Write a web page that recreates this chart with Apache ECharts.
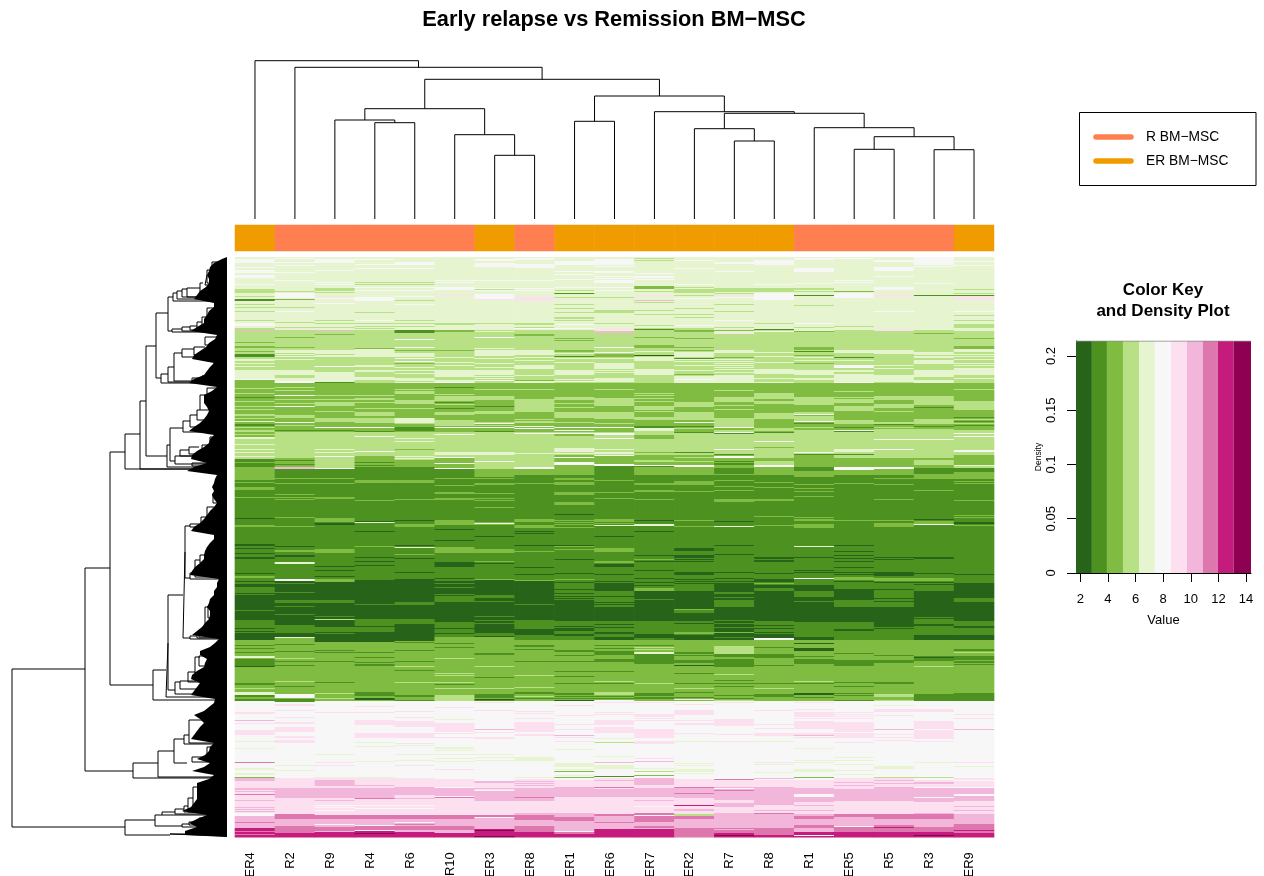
<!DOCTYPE html>
<html>
<head>
<meta charset="utf-8">
<style>html,body{margin:0;padding:0;background:#fff}#c{width:1264px;height:876px}</style>
<script src="https://cdn.jsdelivr.net/npm/echarts@6/dist/echarts.min.js"></script>
</head>
<body>
<div id="c"></div>
<script>
// ---- labels and groups ----
const sampleNames = ["ER4","R2","R9","R4","R6","R10","ER3","ER8","ER1","ER6","ER7","ER2","R7","R8","R1","ER5","R5","R3","ER9"];
const sampleGroups = [2,1,1,1,1,1,2,1,2,2,2,2,2,2,1,1,1,1,2];
const groupNames = ["R BM\u2212MSC","ER BM\u2212MSC"];
const groupColors = ["#FF7F50","#F09C00"];
// PiYG levels 1..11
const levelColors = ["#276419","#4d9221","#7fbc41","#b8e186","#e6f5d0","#f7f7f7","#fde0ef","#f1b6da","#de77ae","#c51b7d","#8e0152"];
const keyEdges = [1.69,2.84,3.93,5.09,6.25,7.40,8.56,9.72,10.87,11.96,13.11,14.36];
const keyXTicks = [2,4,6,8,10,12,14];
const keyYTicks = [0,0.05,0.1,0.15,0.2];

// ---- heatmap columns: "row:level:rows" runs, later runs lie over earlier ones ----
const rowER4 = "0:5:75 75:4:48 123:3:59 182:4:20 202:2:8 210:3:8 218:3:5 223:2:7 230:3:3 233:2:105 338:1:25 363:2:13 376:1:7 383:3:61 444:6:77 521:8:3 524:7:35 559:8:12 571:10:9 2:6:4 10:6 13:6:3 18:6:3 27:6 32:4:4 39:4 42:2:2 47:4 50:4 54:4 63:4 66:6:3 71:4:3 74:8 85:3 89:3:2 94:3 97:2:3 102:5:2 106:5 109:5 113:5:9 122:6 131:4 136:4 140:2 144:4 149:4 152:4 157:4:2 161:4 164:5 167:2:2 170:4 173:4:2 177:4 180:5:2 187:5 192:5 195:5 199:7 205:3 225:3 240:3 261:1 268:3:2 287:1:2 291:1 296:1 300:1:2 316:1 319:3:2 324:1 327:1:3 336:1 353:2 371:1 374:1 388:2 391:2 395:2 399:5:2 402:2:7 409:1 426:2:2 431:4 435:5:3 438:2:2 442:2:2 455:7:2 463:8 466:7 473:7:5 484:5 491:5 505:9 511:5:2 516:5:2 520:3 531:8 532:8 534:8 537:9 543:8 550:8 552:8 554:8 556:6:3 565:9 568:8 574:9 577:9";
const rowR2 = "0:5:73 73:4:20 93:5:3 96:4:17 113:5:5 118:4:3 121:5:3 124:6:2 126:3:49 175:4:26 201:3:9 210:8:2 212:2:4 216:2:2 218:2:120 324:1:44 368:2:8 376:1:4 380:5:1 381:3:63 444:6:77 521:7:10 531:8:10 541:7:16 557:9:5 562:8:7 569:9:7 576:10:4 1:6 5:6 8:6 15:6 23:6 34:4 36:6:5 42:3 50:4 54:6 65:4 70:4 71:7 80:3 90:3 97:5 99:5 102:5 130:4 133:4 138:6 142:4 146:4 149:6 158:4:3 165:6 168:4 173:2 203:2 207:2 221:3 226:3 237:3 240:3 242:3 260:3 269:3 289:1 293:3:2 298:1:2 305:5:2 322:6:2 326:2 335:2 343:2:3 349:2 357:2 365:1:2 387:2 394:2 401:4 404:2 408:2 424:4 429:2 437:6:4 442:2:3 447:7:2 453:7 460:7 465:7:2 470:7:5 479:7:2 483:7:3 508:5 513:5";
const rowR9 = "0:5:75 75:4:18 93:5:7 100:4:15 115:5:10 125:2 126:3:49 175:4:36 211:2:7 218:2:107 325:1:60 385:3:59 444:6:77 521:7:8 523:8:6 529:7:2 531:8:10 541:7:17 558:9:4 562:8:8 570:9:4 574:8:1 575:10:5 2:6:4 13:6 25:6 27:6 31:4:3 35:4 39:7 41:6 46:6 63:4 66:4 70:4 73:4 74:8 77:3 97:4 101:4 109:6 138:4 142:4 145:4:4 154:4 161:4:4 170:6 173:2 192:5 195:5 199:6 211:6 221:3 226:3 240:3:2 261:3:4 266:1:2 292:3:4 309:1 313:1 319:1 322:3:3 343:2:3 359:2 362:4 370:2:5 376:2 393:2 395:2 404:2 425:2 436:4 441:4 455:7 497:5 505:7 508:7 520:5 543:8 548:6 550:6 553:6 567:6";
const rowR4 = "0:5:73 73:4:19 92:5:8 100:4:8 108:5:2 110:4:3 113:5:2 115:4:5 120:5:3 123:4:3 126:3:49 175:4:24 199:3:11 210:2:8 218:2:105 323:1:62 385:3:50 435:2:4 439:3:5 444:6:77 521:7:10 531:8:7 538:8:4 542:7:16 558:9:4 562:8:6 569:9:4 574:10:6 2:6 7:6 11:6 25:4 27:4 30:6 33:6 40:6:4 55:4 63:6 66:4 69:4 71:4 91:3 102:4 105:4 138:4 141:4:2 145:4 151:4 155:4:4 161:4:5 170:6 174:2 179:6 194:6 205:2 208:2 223:3:3 243:3 264:1 265:5 274:1 289:3 300:1 304:1 308:1 347:2 362:2:2 364:2:5 370:2:5 380:1 382:1 395:2 400:2 405:2 407:2:2 441:1:2 449:7 455:7 463:7:5 469:6 476:7:5 485:5 489:5 504:5 520:5 528:8 541:9 548:6 551:6 576:11";
const rowR6 = "0:5:75 75:4:50 125:5:1 126:3:49 175:4:28 203:3:7 210:2:8 218:2:106 324:1:60 384:3:60 444:6:77 521:7:9 530:8:8 538:7:20 558:9:4 562:8:7 569:9:4 573:8:2 575:10:5 5:6:3 11:6 25:4 27:4 30:6 33:6 39:6 43:4 47:6 63:4 66:4 69:4 73:2:3 82:6 90:6 93:3 96:5:4 106:3 101:6 104:6 110:5 113:5 116:5 121:5:3 132:4 134:4:3 143:4:4 151:4 161:5:5 166:4 170:2:4 192:3 181:5 184:5 199:5 201:5 203:3:3 223:3:3 242:3 263:1 267:3:3 288:1 290:5 297:3 301:1 315:1 322:1:3 345:2:3 362:2 363:2:4 385:2 393:2 393:2 404:2 409:4 413:2 425:4 438:2:2 443:2 454:7 460:7 464:7:6 476:7:5 486:7 488:5 497:5 503:5 508:7 541:8 548:6 551:6 565:6 567:9";
const rowR10 = "0:5:73 73:4:40 113:5:2 115:5:5 120:4:3 123:5:2 125:6 126:3:49 175:4:20 195:5:3 198:4:2 200:6 201:3:10 211:2:7 218:2:105 323:1:16 339:2:6 345:1:20 365:2:16 381:3:63 444:6:77 522:7:8 531:8:8 540:9 541:7:17 558:9:4 562:8:7 569:9:4 573:8:3 576:10:4 23:6 25:6 30:6:3 37:7 66:4:2 73:3:2 93:3 100:5 105:5 108:5 130:2 137:4 139:4:5 145:2 147:4 150:3 151:2 155:4:3 163:4:5 170:6 168:4 173:3:2 177:6 206:6 211:6 221:3 228:3 235:3:2 241:3:2 263:3:5 272:1 283:1 290:3:6 305:1:5 321:1 322:2:2 326:2 330:2 337:2 371:1 376:1 380:3 386:2 390:2 401:4 416:4 418:4 425:4 427:2 431:4 438:4:6 450:7 462:5 466:7:9 476:7 480:7 490:5:2 493:5 497:5 501:5 504:5 512:7";
const rowER3 = "0:5:75 75:4:51 126:3:13 139:4:4 143:3:11 154:4:3 157:3:8 165:4:2 167:3:8 175:4:23 198:4:14 212:3:6 218:2:105 323:1:15 338:2:3 341:1:39 380:3:3 383:3:61 444:6:77 524:7:9 533:8:11 544:7:14 558:9:2 560:8:12 572:10:3 575:10:5 2:6:2 6:6:4 23:6 31:6 32:4 33:6 37:6:5 42:7 66:4 73:4 80:6 91:5 93:5:6 101:5 106:5 110:5 113:5:5 119:5 121:5 123:6 132:4 145:3 149:2 166:6 168:4 170:6 172:3 174:2 195:5:3 204:6 218:3:2 221:3 226:3:2 236:3 241:3 243:3 250:3 265:3 266:6 267:3 279:1 292:3:4 304:3 306:1 322:3 340:2 339:2:2 344:2 359:2 363:2 366:2 375:1 376:2:3 396:2 397:2 409:4 420:2 431:4 437:2:4 442:1 443:2 445:7 453:7 472:8 475:7 480:7:2 497:5 500:5 503:5 524:8:2 531:8 533:6 560:6 573:11 579:11";
const rowER8 = "0:5:73 73:4:53 126:3:16 142:4:13 155:3:9 164:4:2 166:3:9 175:4:26 201:4:9 210:6:2 212:3:6 218:2:106 324:1:39 363:2:9 372:1:6 378:2:5 383:3:61 444:6:77 522:7:9 531:8:13 544:7:12 556:8:2 558:9:5 563:8:6 569:9:6 575:10:5 1:6:2 7:6:4 23:6 31:6 33:6 40:7:4 66:4 67:4 70:4 71:6 77:3:2 93:5:5 100:5 103:5 108:5:4 114:4:3 118:5 123:3 124:5:2 132:4 162:4 165:4 169:6 171:6 176:6 196:5 226:3 262:3:3 268:3:3 274:1 276:1 288:1 294:3 310:1 317:1 323:3 347:2 388:2:2 392:2 404:2 418:4 430:4 435:2:2 439:4 441:2 454:7 456:7 461:7 465:7:10 477:7:2 500:5:4 520:5 524:8 526:8 528:8 540:9";
const rowER1 = "0:5:73 73:4:40 113:5:5 118:4:8 126:3:14 140:4:3 143:3:12 155:4:6 161:3:14 175:4:23 198:3:20 218:2:105 323:2:22 345:1:19 364:2:8 372:1:2 374:2:3 377:1:2 379:2:4 383:3:61 444:6:77 523:7:7 530:8:10 540:7:16 556:8:4 560:9:4 564:8:6 570:8:3 575:9:2 577:10:3 4:6:4 14:6 17:6 22:6 30:6 33:4 36:2 38:5 40:4 47:4 51:4 55:4 60:4:2 63:4 67:6 71:6 81:3 83:3 93:3:2 96:5 99:2 101:5 105:5 122:5 121:4 124:6 140:4 146:4 150:4 165:4 170:6 173:6 176:6 177:3:2 191:5:4 196:5 200:6 205:6:3 211:3:3 221:3:2 225:3:3 235:3:3 245:3:3 257:1 263:3 265:3 267:3 270:3 288:1 289:3 292:3 302:1 316:1 322:3 325:1 332:1 336:1 339:1 341:1 343:1:2 369:1 371:1 393:2:2 398:2 404:2 414:2 419:2 426:2 436:2:2 439:2 441:2 443:1 448:7 458:7 467:7 470:6 472:7 478:8 480:7 484:7 492:5 506:5:4 512:5 514:3 518:5 520:3 571:8 573:8";
const rowER6 = "0:5:75 75:4:51 126:3:15 141:4:8 149:3:6 155:4:6 161:3:14 175:4:23 198:6:1 199:3:8 207:6:2 209:2:109 318:2:6 324:2:2 326:1:8 334:2:5 339:2:11 350:1:14 364:2:16 380:1:3 383:3:61 444:6:77 521:7:11 532:8:8 540:7:17 557:9:2 559:8:9 568:8:4 572:10:8 2:6:6 9:6 14:6:2 19:6 21:6 23:6:3 30:6 33:4 33:6 40:4 53:4:3 66:4 72:7 74:8:2 90:6 95:6 97:3:3 101:5 106:5:5 109:5 111:5 113:5 115:5 121:5:4 132:4 155:4 161:4 166:4 170:6 176:6:2 181:6 192:5 195:5 196:5 223:3 235:3 241:3 262:3:3 266:3 268:5 279:1 291:3:4 304:3:2 307:1:3 317:1 324:1 339:1 345:1 347:1 367:1 370:1 375:1:2 388:2 391:2 396:2 394:2:2 397:2 402:2:3 414:2 424:4 426:2 435:4:3 439:2 441:2 443:6 445:7 455:7 457:7 463:7:5 468:6 470:7:6 481:5 485:4 499:5 505:8 508:5:4 519:2 523:8 530:9 565:9 560:8";
const rowER7 = "0:5:71 71:4:41 112:5:6 118:4:8 126:3:23 149:4:4 153:3:7 160:4:3 163:3:8 171:5:3 174:4:4 178:3:1 179:4:22 198:3:15 213:3:5 218:2:105 323:2:11 334:1:30 364:2:13 377:1:4 381:2:2 383:3:61 444:6:77 521:7:3 524:8:4 528:7:3 531:8:9 540:7:16 556:9:2 558:6:1 559:9:6 565:8:7 572:10:3 575:10:5 1:4 3:4 16:6 19:6:2 22:6 29:3:3 34:4 38:7 43:8 45:4 53:4 57:4 68:4 72:2 80:3 88:3:3 94:5 98:1 100:5:4 105:4:3 136:4 138:4 141:4 144:4 154:4 169:2:2 179:3:2 181:3 195:3 203:4:2 208:6 209:2 213:3 226:3:2 233:3:2 242:3 263:1 267:5:2 274:1 298:1 302:3 304:1 313:1 321:1 325:1 328:1 331:3:3 342:2 388:2 390:4 392:4 395:5:2 397:2 398:2:5 403:2:4 426:4 436:2:3 440:2 441:2 445:7 457:7:3 461:7 463:7 472:7:9 484:7:3 501:7 504:8 511:5 514:4 518:3 521:8:3 543:8 549:6 557:9 558:6 569:9:2";
const rowER2 = "0:5:75 75:4:45 120:5:6 126:3:19 145:4:5 150:3:5 155:4:8 163:3:12 175:4:23 198:3:2 200:4 201:3:7 208:6:2 210:3:8 218:2:6 224:3:4 228:2:95 323:2:11 334:1:30 352:2:5 364:2:14 378:1:5 383:3:61 444:6:77 522:7:8 530:8:11 541:7:16 557:4:2 559:9:3 562:8:9 571:9:7 578:9:2 3:6 11:6 27:6 30:4 32:4:4 38:4 41:6 51:4 57:4 60:4 68:6 71:4:2 73:3:2 81:3 90:3 93:3 95:5:5 101:2 102:5 104:5 108:5 113:5 117:3 119:5 122:6 165:6 169:2 171:4 175:2 195:2 200:4 204:4 234:3 263:3 269:3 291:1:3 298:1:3 302:1 304:1 315:1:3 322:1 324:1 326:1 330:2 345:1 352:3 356:1 363:1 366:1 375:3:2 379:1 395:2:2 398:2 403:2:3 408:1 416:2 426:2 431:4 435:2 440:2 442:7 447:7 453:7:5 463:7 466:7:2 476:7 484:5 506:5 508:5 512:5:3 516:5 530:9 536:9 548:10 552:8:2";
const rowR7 = "0:5:77 77:4:49 126:3:14 140:4:5 145:3:15 160:4:11 171:3:2 173:4:28 201:4:3 198:3:13 211:2:7 218:2:108 326:1:9 335:2:2 337:1:6 343:2:7 350:1:33 383:3:61 444:6:77 523:7:7 530:8:13 543:7:3 546:8:4 550:7:13 556:8:5 561:8:12 573:9:3 576:10:4 5:6:2 14:6 31:4:4 36:4 38:7 40:6 47:4 54:4 63:6 70:4 73:3 75:7 93:5:3 100:3 102:5 104:5 106:5 108:5 110:5 112:5 115:5 118:5:8 133:4 140:4 148:4 152:4 158:3:3 170:6 175:6 176:2 192:6 197:2 199:6:2 204:2 206:2:2 217:3 223:3 229:3 233:3 242:3:3 264:1 269:5 288:1 297:1 315:1 321:1 324:1 340:2 363:2 366:2 370:2 375:3 380:2 389:4:8 397:2:3 402:2:8 417:4 423:2 426:2 429:2 438:2 441:2 443:4 445:7 462:7:7 472:6 477:7 484:7 522:9 531:6 533:9 537:8 571:9 578:11";
const rowR8 = "0:5:73 73:4:53 126:3:12 138:4:4 142:3:3 145:4 146:3:10 156:4:6 162:3:9 171:4:3 174:3:2 176:4:25 201:3:3 204:4:4 208:6:2 210:3:8 218:2:110 328:1:3 331:2:3 334:1:30 364:2:19 381:6:2 383:3:61 444:6:77 523:7:7 530:8:6 536:8:12 548:7:9 557:8:5 562:8:9 571:9:9 578:10:2 3:6:5 27:6 31:4:4 36:6:7 66:4 72:2 74:6 95:5 99:5 105:5 112:5:5 121:5 125:5 136:4:2 144:4 146:4 161:4 168:3:2 173:4 175:2 184:6 190:3 225:3 230:3 242:3:2 259:3 268:3 300:1:2 303:1:2 316:1 322:1:3 326:3 368:1 371:1 375:1 377:1:4 390:2 397:2:4 408:2 426:2 431:4 437:2:3 453:7 467:7 471:7 476:7:3 484:5 505:7 507:5 515:5 521:8 553:8 556:9";
const rowR1 = "0:5:74 74:4:52 126:3:14 140:4:8 148:3:8 156:4 158:3:3 161:4:4 165:3:8 173:4:25 198:3:12 210:2:4 214:3:6 220:2:3 223:2:100 323:2:5 328:1:6 334:2:6 340:1:4 344:2:1 345:1:20 365:2:15 380:1:3 383:3:61 444:6:77 523:7:8 531:8:7 540:8:5 545:7:12 557:8:3 558:9:4 562:8:6 568:9:3 571:8:4 575:10:5 1:6:2 11:6:4 17:7 26:6 31:4:2 34:4 38:2 48:4 66:6 70:4 74:3 90:3:3 94:2 98:3 100:5 103:5 106:3 113:5:5 121:5:2 141:4 143:4 155:4 159:4:2 164:6 166:2 170:4 195:6 197:2 227:3 231:3 234:3 239:3 260:3 262:3:2 267:3:4 289:5 300:1 313:1 315:1 321:6 386:1 391:1:3 399:2 405:2 402:2:5 424:4 426:2 436:1:2 440:2 445:7 452:7 455:7:5 461:7 464:7:7 470:7:2 476:7:3 478:8 480:7 491:5 503:5 505:5 512:5:3 520:3 526:7 537:6 548:8 553:8 558:8 578:6";
const rowER5 = "0:5:73 73:4:44 117:5:8 125:6 126:3:17 143:4:3 146:3:3 149:4:5 154:3:9 163:4:4 167:3:8 175:4:26 201:3:9 210:6:3 213:3:5 218:2:114 332:1:11 343:2:7 350:1:15 365:2:7 372:1:2 374:2:9 383:3:61 444:6:77 521:7:11 532:8:12 544:7:13 557:9:3 560:8:9 570:9:5 575:10:5 1:6 23:6 25:6 34:3 36:6:5 69:4 93:5:3 100:2 103:5 108:6:3 113:5:2 126:3 134:4 140:4 142:4 144:4 170:2 173:6 174:2 192:5:3 197:2 226:3 263:3 288:1 294:1 298:1 301:1 304:1 310:1 315:1 317:1 320:3:3 324:1 334:1 396:2 403:2:6 425:2 429:2 436:2 438:2 443:2 455:7 457:7 459:7 461:7 465:7:10 476:7:5 485:7 500:5 503:5 507:5 513:5 517:5 525:8 528:8";
const rowR5 = "0:5:73 73:4:53 126:3:13 139:4:4 143:3:4 147:4:4 151:3:7 158:3:8 166:3:6 172:4:29 201:3:9 210:6:2 212:3:6 218:2:97 315:1:4 319:2:4 323:2:27 350:1:20 370:2:13 383:3:61 444:6:77 521:7:9 530:8:14 544:7:13 557:9:5 562:8:6 568:9:7 575:10:5 3:6:2 10:6:4 19:6 30:6:3 38:7:2 54:6 72:7:2 93:5:4 108:5 111:5 118:5:7 154:4 165:4:2 167:2 170:4 182:6 192:6 221:3 227:3 242:3 263:3 266:3:4 300:1 302:1 321:3:3 325:1 332:1 341:1 344:1 368:1 371:1 398:2 403:2:3 425:2:2 437:4:3 443:4 448:5 452:7:3 458:7 472:8 477:7 480:7 483:7 509:5:3 520:4 523:8 526:8 570:10";
const rowR3 = "0:5:73 73:4:40 113:5:7 120:4:3 123:5:3 126:3:13 139:4:9 148:3:14 162:4:5 167:3:5 172:4:29 201:3:2 203:4:5 208:3:3 211:2:6 217:3:5 222:2:118 340:2:3 343:2:17 325:2:9 334:1:28 362:2:5 367:1:2 369:2:9 378:1:5 383:3:61 444:6:77 464:7:18 523:7:7 531:8:7 538:8:7 540:6:1 545:7:12 557:9:5 562:8:6 568:8:2 570:9:5 575:10:5 0:6:8 9:6 26:6 38:2 76:3 95:5:3 99:5 100:5 103:5:4 150:2 169:2 182:6 233:3 262:1 264:3:3 267:6 300:1:2 316:1 321:3:3 325:1 327:1 330:2 360:2 399:2:4 400:1 403:2 409:4 437:2:7 452:7:3 472:6 484:7 505:5 520:4 525:8:2 556:8 578:11";
const rowER9 = "0:5:74 74:4:15 89:3:3 92:5:3 95:4:17 112:5:6 118:4:8 126:3:18 144:4:9 153:3:6 159:3:14 173:4:25 198:3:10 208:4:3 211:2:4 215:3:6 221:2:105 326:1:15 341:2:4 345:1:19 364:2:5 369:1:2 371:2:7 378:1:5 383:3:61 444:6:77 521:7:2 524:7:6 531:8:6 539:8:5 544:7:13 557:8:3 561:8:4 563:8:5 568:9:3 570:9:6 576:10:4 4:6 8:6 32:4 36:4 38:2 40:7:3 54:6 58:4 63:4 67:4:4 81:3 97:5 99:5 102:5 106:5 108:5 111:5 121:5 132:4 160:2 162:4 164:2 166:4 168:2 170:3 176:6 179:6 193:6:2 208:5 215:3:2 219:3 221:3 224:3 226:3 243:3 258:3 260:3 265:1 266:1 268:3 317:1 392:2:2 395:4 405:2 399:2:4 404:2 407:2 436:2:8 457:7 461:7 472:8 505:7 509:5 530:6 549:8 553:8 558:8 560:8 567:9 573:10";
const columnRuns = [rowER4,rowR2,rowR9,rowR4,rowR6,rowR10,rowER3,rowER8,rowER1,rowER6,rowER7,rowER2,rowR7,rowR8,rowR1,rowER5,rowR5,rowR3,rowER9];
const rowCount = 580;

// ---- column dendrogram: hclust-style merges [a, b, height]; negative = sample position, positive = earlier merge ----
const topMerges = [[-4,-5,96.3],[-3,1,99],[-7,-8,63.7],[-6,3,84.3],[2,4,110.3],[-9,-10,97.7],[-13,-14,78],[-12,7,90.3],[-16,-17,69.7],[-18,-19,69.3],[9,10,82.3],[-15,11,91.3],[8,12,105.7],[-11,13,107.3],[6,14,123],[5,15,139.7],[-2,16,151.7],[-1,17,158.3]];

// ---- row dendrogram branches: [height, row A, height A, row B, height B]; height 0 = runs into the leaves ----
const rowBranches = [
[215,412,142,570,102],[142,311,117,514,94],[117,195,102,428,74],[102,177,87,212,0],[87,144,81,212,0],[81,89,71,199,60],[71,56,59,121,66],
[59,40,54,74,55],[54,36,50,44,0],[50,34,45,42,0],[45,32,40,40,0],[40,31,27,40,0],[27,26,24,35,0],[22,18,20,28,0],[20,13,10,26,0],[15,5,5,15,0],
[55,72,45,75,0],[45,70,37,74,0],[37,69,30,73,0],[30,65,25,71,0],[25,60,18,70,0],[20,51,10,63,0],
[66,117,59,126,0],[59,110,53,125,0],[53,96,45,124,0],[45,92,33,100,0],[33,90,22,98,0],[22,80,10,88,0],[35,121,25,124,0],[25,119,15,122,0],[13,106,8,116,0],
[60,188,57,210,0],[57,171,44,204,52],[52,199,30,207,0],[30,197,20,200,0],[35,206,20,209,0],[44,164,37,175,0],[37,158,30,170,0],[30,153,27,163,0],[27,138,15,153,0],[20,131,10,141,0],
[47,193,38,199,0],[38,190,28,197,0],[25,188,17,195,0],[17,180,8,190,0],
[74,413,61,443,0],[61,386,59,440,0],[59,338,44,433,52],[44,295,42,381,37],[42,269,37,321,37],[37,267,28,270,0],[26,260,20,268,0],[20,250,13,260,0],[14,236,8,246,0],[11,223,5,238,0],
[37,316,32,322,0],[32,303,27,320,0],[27,298,22,306,0],[37,379,30,382,0],[30,377,25,381,0],[28,373,20,380,0],[22,350,19,378,0],[19,349,8,361,0],
[52,425,47,437,0],[47,424,31,432,0],[39,415,32,425,0],[32,400,27,416,0],[28,399,10,409,0],
[94,506,69,521,0],[69,494,53,520,0],[53,482,43,506,40],[43,478,38,487,0],[38,463,13,486,0],[27,475,15,482,0],[20,490,10,503,0],[35,500,15,505,0],
[102,563,72,578,57],[72,558,65,569,45],[65,555,52,558,0],[52,552,43,557,0],[43,549,39,555,0],[39,541,34,555,0],[34,530,30,550,0],[45,567,38,570,0],[38,565,30,568,0],[28,561,18,567,0],[57,577,40,579,0],[40,576,30,578,0]
];
// black mass of the row leaves: width read every 4 rows
const rowLeafWidths = [5,13,17,18,20,18,18,21,27,30,33,13,13,18,20,23,23,30,36,10,12,18,21,27,33,35,13,17,20,23,33,38,10,15,23,23,23,20,18,20,23,27,33,38,13,17,18,23,30,35,36,20,33,40,10,12,13,15,13,15,13,10,13,17,20,23,27,33,36,13,13,17,20,22,23,23,27,32,35,37,8,10,10,13,13,17,18,20,17,17,18,22,25,30,35,8,12,17,27,27,20,22,23,30,35,36,27,30,33,36,12,13,18,23,33,27,23,27,30,33,36,13,17,18,22,30,17,23,35,13,18,30,30,30,30,30,33,36,45,20,30,38,30,42,42];

const keyPieces = levelColors.map((c,i)=>({value:i+1,color:c}));
const rowAxis = Array.from({length:rowCount},(_,i)=>String(i));

const grid = columnRuns.map(s=>{
  const col = new Array(rowCount).fill(6);
  s.trim().split(/\s+/).forEach(t=>{
    const p=t.split(':').map(Number), h=p[2]||1;
    for(let r=p[0];r<p[0]+h&&r<rowCount;r++) col[r]=p[1];
  });
  return col;
});
const heatData=[];
for(let r=0;r<rowCount;r++) for(let c=0;c<sampleNames.length;c++) heatData.push([c,r,grid[c][r]]);

function topPaths(){
  const pos=[],ht=[],out=[];
  const p=i=>i<0?(-i-0.5):pos[i-1];
  const h=i=>i<0?0:ht[i-1];
  topMerges.forEach(m=>{
    const a=m[0],b=m[1],y=m[2];
    out.push([p(a),h(a)],[p(a),y],[p(b),y],[p(b),h(b)],[NaN,NaN]);
    pos.push((p(a)+p(b))/2); ht.push(y);
  });
  return out;
}
function leftPaths(){
  const out=[];
  rowBranches.forEach(b=>{out.push([b[2],b[1]],[b[0],b[1]],[b[0],b[3]],[b[4],b[3]],[NaN,NaN]);});
  return out;
}
const font='"Liberation Sans",Arial,sans-serif';
const chart=echarts.init(document.getElementById('c'),null,{renderer:'canvas'});
const hidden={show:false};
chart.setOption({
  animation:false,
  backgroundColor:'#fff',
  title:[
    {text:'Early relapse vs Remission BM\u2212MSC',left:609,top:4,textAlign:'center',textStyle:{fontFamily:font,fontWeight:'bold',fontSize:21.8,color:'#000'}},
    {text:'Color Key\nand Density Plot',left:1158,top:275,textAlign:'center',textStyle:{fontFamily:font,fontWeight:'bold',fontSize:17,lineHeight:21,color:'#000'}}
  ],
  grid:[
    {left:235,top:257.25,width:759,height:580,outerBoundsMode:'none'},
    {left:235,top:225,width:759,height:26,outerBoundsMode:'none'},
    {left:235,top:50,width:759,height:169,outerBoundsMode:'none'},
    {left:11,top:257,width:216,height:580,outerBoundsMode:'none'},
    {left:1076,top:341,width:175,height:232,outerBoundsMode:'none'}
  ],
  xAxis:[
    {gridIndex:0,type:'category',data:sampleNames,axisLine:hidden,axisTick:hidden,splitLine:hidden,
      axisLabel:{rotate:90,margin:15,interval:0,verticalAlign:'bottom',lineHeight:9,fontFamily:font,fontSize:13,color:'#000'}},
    {gridIndex:1,type:'category',data:sampleNames,show:false},
    {gridIndex:2,type:'value',min:0,max:19,show:false},
    {gridIndex:3,type:'value',min:0,max:216,inverse:true,show:false},
    {gridIndex:4,type:'value',min:1.69,max:14.36,name:'Value',nameLocation:'middle',nameGap:41,
      nameTextStyle:{fontFamily:font,fontSize:13,color:'#000'},splitLine:hidden,
      axisLine:{lineStyle:{color:'#000',width:1}},
      axisTick:{length:9,customValues:keyXTicks,lineStyle:{color:'#000'}},
      axisLabel:{customValues:keyXTicks,margin:20,fontFamily:font,fontSize:13,color:'#000'}}
  ],
  yAxis:[
    {gridIndex:0,type:'category',data:rowAxis,inverse:true,show:false},
    {gridIndex:1,type:'category',data:['group'],show:false},
    {gridIndex:2,type:'value',min:0,max:169,show:false},
    {gridIndex:3,type:'value',min:0,max:580,inverse:true,show:false},
    {gridIndex:4,type:'value',min:0,max:0.2138,name:'Density',nameLocation:'middle',nameGap:33,nameRotate:90,
      nameTextStyle:{fontFamily:font,fontSize:8.5,color:'#000'},splitLine:hidden,
      axisLine:{show:true,lineStyle:{color:'#000',width:1}},
      axisTick:{show:true,length:9,customValues:keyYTicks,lineStyle:{color:'#000'}},
      axisLabel:{customValues:keyYTicks,rotate:90,margin:18,fontFamily:font,fontSize:13,color:'#000',formatter:v=>String(v)}}
  ],
  visualMap:[
    {type:'piecewise',show:false,dimension:2,seriesIndex:0,pieces:keyPieces},
    {type:'piecewise',show:false,dimension:2,seriesIndex:1,pieces:groupColors.map((c,i)=>({value:i+1,color:c}))}
  ],
  series:[
    {type:'heatmap',xAxisIndex:0,yAxisIndex:0,data:heatData,progressive:0,silent:true,itemStyle:{borderWidth:0}},
    {type:'heatmap',xAxisIndex:1,yAxisIndex:1,data:sampleGroups.map((g,i)=>[i,0,g]),progressive:0,silent:true,itemStyle:{borderWidth:0}},
    {type:'line',xAxisIndex:2,yAxisIndex:2,data:topPaths(),showSymbol:false,silent:true,connectNulls:false,lineStyle:{color:'#000',width:1}},
    {type:'custom',xAxisIndex:3,yAxisIndex:3,silent:true,data:[[0,0]],clip:true,
      renderItem:(params,api)=>{
        const pts=[api.coord([0,0])];
        rowLeafWidths.forEach((w,i)=>pts.push(api.coord([w,i*4+2])));
        pts.push(api.coord([0,580]));
        return {type:'polygon',shape:{points:pts},style:{fill:'#000'}};
      }},
    {type:'line',xAxisIndex:3,yAxisIndex:3,data:leftPaths(),showSymbol:false,silent:true,connectNulls:false,lineStyle:{color:'#000',width:1}},
    {type:'custom',xAxisIndex:4,yAxisIndex:4,silent:true,
      data:levelColors.map((c,i)=>[keyEdges[i],keyEdges[i+1],i]),
      encode:{x:[0,1]},
      renderItem:(params,api)=>{
        const a=api.coord([api.value(0),0.2138]),b=api.coord([api.value(1),0]);
        return {type:'rect',shape:{x:a[0],y:a[1],width:b[0]-a[0],height:b[1]-a[1]},style:{fill:levelColors[api.value(2)]}};
      }},
    {type:'line',xAxisIndex:4,yAxisIndex:4,data:[[keyEdges[0],0.2138],[keyEdges[11],0.2138]],showSymbol:false,silent:true,z:5,lineStyle:{color:'#888',width:1}}
  ],
  graphic:[
    {type:'rect',shape:{x:1079.5,y:112.5,width:176.5,height:73},style:{fill:'#fff',stroke:'#000',lineWidth:1}},
    {type:'line',shape:{x1:1096,y1:137,x2:1131,y2:137},style:{stroke:groupColors[0],lineWidth:5.5,lineCap:'round'}},
    {type:'line',shape:{x1:1096,y1:161,x2:1131,y2:161},style:{stroke:groupColors[1],lineWidth:5.5,lineCap:'round'}},
    {type:'text',x:1146,y:137,style:{text:groupNames[0],font:'13.8px '+font,fill:'#000',verticalAlign:'middle'}},
    {type:'text',x:1146,y:161,style:{text:groupNames[1],font:'13.8px '+font,fill:'#000',verticalAlign:'middle'}}
  ]
});
</script>
</body>
</html>
